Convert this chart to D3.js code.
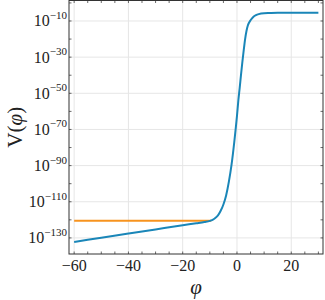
<!DOCTYPE html>
<html>
<head>
<meta charset="utf-8">
<script src="https://cdn.jsdelivr.net/npm/d3@7"></script>
<style>
  body { margin: 0; background: #fff; }
  text { font-family: "Liberation Serif", "DejaVu Serif", serif; fill: #222; }
</style>
</head>
<body>
<div id="container"></div>
<script>
// field values phi and log10 of V(phi)
const phi = [-60, -50, -40, -30, -20, -15, -12, -10, -9, -8, -7, -6, -5, -4, -3, -2, -1, 0, 0.5, 1, 1.5, 2, 2.5, 3, 3.5, 4, 5, 6, 7, 8, 10, 12, 15, 20, 25, 30];
const logV = [-132.2, -129.9, -127.6, -125.3, -123.0, -121.9, -121.2, -120.6, -120.0, -119.0, -117.5, -115.0, -111.5, -106.5, -99.0, -89.5, -77.0, -62.5, -54.0, -47.0, -39.5, -32.5, -26.0, -20.0, -15.5, -12.5, -9.6, -7.8, -6.8, -6.2, -5.7, -5.6, -5.5, -5.5, -5.5, -5.5];
// flat branch
const phiFlat = [-60, -9.5];
const logFlat = [-120.5, -120.5];

const xMajor = [-60, -40, -20, 0, 20];
const yMajor = [-130, -110, -90, -70, -50, -30, -10];

const margin = {top: 0.5, right: 2, bottom: 46, left: 69},
      width = 325 - margin.left - margin.right,
      height = 300 - margin.top - margin.bottom;

const svg = d3.select("#container").append("svg")
  .attr("width", 325)
  .attr("height", 300);

const g = svg.append("g")
  .attr("transform", `translate(${margin.left},${margin.top})`);

const x = d3.scaleLinear().domain([-61.9, 31.7]).range([0, width]);
const y = d3.scaleLinear().domain([-138.9, 1.34]).range([height, 0]);

// grid lines
g.append("g").selectAll("line")
  .data(xMajor).join("line")
  .attr("x1", d => x(d)).attr("x2", d => x(d))
  .attr("y1", 0).attr("y2", height)
  .attr("stroke", "#e6e6e6").attr("stroke-width", 1);

g.append("g").selectAll("line")
  .data(yMajor).join("line")
  .attr("y1", d => y(d)).attr("y2", d => y(d))
  .attr("x1", 0).attr("x2", width)
  .attr("stroke", "#e6e6e6").attr("stroke-width", 1);

// small ticks on all four sides
const xMinor = d3.range(-60, 31, 5);
const yMinor = d3.range(-130, 1, 10);
const tk = 2.5;
const ticks = g.append("g").attr("stroke", "#444").attr("stroke-width", 0.8);
xMinor.forEach(v => {
  ticks.append("line").attr("x1", x(v)).attr("x2", x(v)).attr("y1", height).attr("y2", height - tk);
  ticks.append("line").attr("x1", x(v)).attr("x2", x(v)).attr("y1", 0).attr("y2", tk);
});
yMinor.forEach(v => {
  ticks.append("line").attr("y1", y(v)).attr("y2", y(v)).attr("x1", 0).attr("x2", tk);
  ticks.append("line").attr("y1", y(v)).attr("y2", y(v)).attr("x1", width).attr("x2", width - tk);
});

// lines
const line = d3.line()
  .x(d => x(d[0]))
  .y(d => y(d[1]))
  .curve(d3.curveMonotoneX);

g.append("path")
  .datum(d3.zip(phiFlat, logFlat))
  .attr("fill", "none")
  .attr("stroke", "#f7931e")
  .attr("stroke-width", 2)
  .attr("d", line);

g.append("path")
  .datum(d3.zip(phi, logV))
  .attr("fill", "none")
  .attr("stroke", "#1a86b8")
  .attr("stroke-width", 2)
  .attr("d", line);

// frame
g.append("rect")
  .attr("width", width).attr("height", height)
  .attr("fill", "none").attr("stroke", "#333").attr("stroke-width", 1);

// x tick labels
g.append("g").selectAll("text")
  .data(xMajor).join("text")
  .attr("x", d => x(d))
  .attr("y", height + 17)
  .attr("text-anchor", "middle")
  .style("font-size", "16px")
  .text(d => d < 0 ? "\u2212" + Math.abs(d) : d);

// y tick labels 10^n
const yl = g.append("g").selectAll("text")
  .data(yMajor).join("text")
  .attr("x", -2)
  .attr("y", d => y(d) + 5.5)
  .attr("text-anchor", "end")
  .style("font-size", "16px");
yl.append("tspan").text("10");
yl.append("tspan")
  .attr("dy", -7.5)
  .style("font-size", "11px")
  .text(d => "\u2212" + Math.abs(d));

// axis titles
const yt = svg.append("text")
  .attr("transform", `translate(22,${margin.top + height / 2}) rotate(-90)`)
  .attr("text-anchor", "middle")
  .style("font-size", "21px");
yt.append("tspan").text("V(");
yt.append("tspan").style("font-style", "italic").text("\u03c6");
yt.append("tspan").text(")");

svg.append("text")
  .attr("x", margin.left + width / 2)
  .attr("y", 294)
  .attr("text-anchor", "middle")
  .style("font-size", "21px")
  .style("font-style", "italic")
  .text("\u03c6");
</script>
</body>
</html>
